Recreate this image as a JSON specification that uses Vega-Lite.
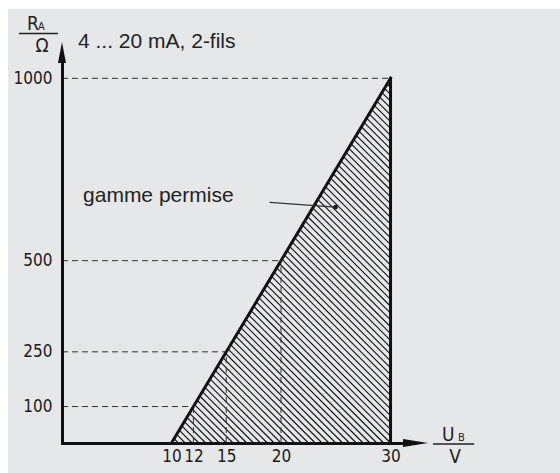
{
  "$schema": "https://vega.github.io/schema/vega-lite/v6.json",
  "autosize": "none",
  "width": 341,
  "height": 380,
  "padding": {"left": 62, "top": 63, "right": 157, "bottom": 30},
  "background": "white",
  "config": {"view": {"stroke": null}},
  "datasets": {
    "bg": [{"v": -4.93, "v2": 45.5, "r": -82.3, "r2": 1190}],
    "hatch": [
      {"v":10.234,"r":11.72,"v2":10.625,"r2":0},{"v":10.469,"r":23.44,"v2":11.25,"r2":0},{"v":10.703,"r":35.16,"v2":11.875,"r2":0},{"v":10.938,"r":46.88,"v2":12.5,"r2":0},{"v":11.172,"r":58.59,"v2":13.125,"r2":0},{"v":11.406,"r":70.31,"v2":13.75,"r2":0},{"v":11.641,"r":82.03,"v2":14.375,"r2":0},{"v":11.875,"r":93.75,"v2":15,"r2":0},{"v":12.109,"r":105.47,"v2":15.625,"r2":0},{"v":12.344,"r":117.19,"v2":16.25,"r2":0},
      {"v":12.578,"r":128.91,"v2":16.875,"r2":0},{"v":12.813,"r":140.63,"v2":17.5,"r2":0},{"v":13.047,"r":152.34,"v2":18.125,"r2":0},{"v":13.281,"r":164.06,"v2":18.75,"r2":0},{"v":13.516,"r":175.78,"v2":19.375,"r2":0},{"v":13.75,"r":187.5,"v2":20,"r2":0},{"v":13.984,"r":199.22,"v2":20.625,"r2":0},{"v":14.219,"r":210.94,"v2":21.25,"r2":0},{"v":14.453,"r":222.66,"v2":21.875,"r2":0},{"v":14.688,"r":234.38,"v2":22.5,"r2":0},
      {"v":14.922,"r":246.09,"v2":23.125,"r2":0},{"v":15.156,"r":257.81,"v2":23.75,"r2":0},{"v":15.391,"r":269.53,"v2":24.375,"r2":0},{"v":15.625,"r":281.25,"v2":25,"r2":0},{"v":15.859,"r":292.97,"v2":25.625,"r2":0},{"v":16.094,"r":304.69,"v2":26.25,"r2":0},{"v":16.328,"r":316.41,"v2":26.875,"r2":0},{"v":16.563,"r":328.13,"v2":27.5,"r2":0},{"v":16.797,"r":339.84,"v2":28.125,"r2":0},{"v":17.031,"r":351.56,"v2":28.75,"r2":0},
      {"v":17.266,"r":363.28,"v2":29.375,"r2":0},{"v":17.5,"r":375,"v2":30,"r2":0},{"v":17.734,"r":386.72,"v2":30,"r2":18.75},{"v":17.969,"r":398.44,"v2":30,"r2":37.5},{"v":18.203,"r":410.16,"v2":30,"r2":56.25},{"v":18.438,"r":421.88,"v2":30,"r2":75},{"v":18.672,"r":433.59,"v2":30,"r2":93.75},{"v":18.906,"r":445.31,"v2":30,"r2":112.5},{"v":19.141,"r":457.03,"v2":30,"r2":131.25},{"v":19.375,"r":468.75,"v2":30,"r2":150},
      {"v":19.609,"r":480.47,"v2":30,"r2":168.75},{"v":19.844,"r":492.19,"v2":30,"r2":187.5},{"v":20.078,"r":503.91,"v2":30,"r2":206.25},{"v":20.313,"r":515.63,"v2":30,"r2":225},{"v":20.547,"r":527.34,"v2":30,"r2":243.75},{"v":20.781,"r":539.06,"v2":30,"r2":262.5},{"v":21.016,"r":550.78,"v2":30,"r2":281.25},{"v":21.25,"r":562.5,"v2":30,"r2":300},{"v":21.484,"r":574.22,"v2":30,"r2":318.75},{"v":21.719,"r":585.94,"v2":30,"r2":337.5},
      {"v":21.953,"r":597.66,"v2":30,"r2":356.25},{"v":22.188,"r":609.38,"v2":30,"r2":375},{"v":22.422,"r":621.09,"v2":30,"r2":393.75},{"v":22.656,"r":632.81,"v2":30,"r2":412.5},{"v":22.891,"r":644.53,"v2":30,"r2":431.25},{"v":23.125,"r":656.25,"v2":30,"r2":450},{"v":23.359,"r":667.97,"v2":30,"r2":468.75},{"v":23.594,"r":679.69,"v2":30,"r2":487.5},{"v":23.828,"r":691.41,"v2":30,"r2":506.25},{"v":24.063,"r":703.13,"v2":30,"r2":525},
      {"v":24.297,"r":714.84,"v2":30,"r2":543.75},{"v":24.531,"r":726.56,"v2":30,"r2":562.5},{"v":24.766,"r":738.28,"v2":30,"r2":581.25},{"v":25,"r":750,"v2":30,"r2":600},{"v":25.234,"r":761.72,"v2":30,"r2":618.75},{"v":25.469,"r":773.44,"v2":30,"r2":637.5},{"v":25.703,"r":785.16,"v2":30,"r2":656.25},{"v":25.938,"r":796.88,"v2":30,"r2":675},{"v":26.172,"r":808.59,"v2":30,"r2":693.75},{"v":26.406,"r":820.31,"v2":30,"r2":712.5},
      {"v":26.641,"r":832.03,"v2":30,"r2":731.25},{"v":26.875,"r":843.75,"v2":30,"r2":750},{"v":27.109,"r":855.47,"v2":30,"r2":768.75},{"v":27.344,"r":867.19,"v2":30,"r2":787.5},{"v":27.578,"r":878.91,"v2":30,"r2":806.25},{"v":27.813,"r":890.63,"v2":30,"r2":825},{"v":28.047,"r":902.34,"v2":30,"r2":843.75},{"v":28.281,"r":914.06,"v2":30,"r2":862.5},{"v":28.516,"r":925.78,"v2":30,"r2":881.25},{"v":28.75,"r":937.5,"v2":30,"r2":900},
      {"v":28.984,"r":949.22,"v2":30,"r2":918.75},{"v":29.219,"r":960.94,"v2":30,"r2":937.5},{"v":29.453,"r":972.66,"v2":30,"r2":956.25},{"v":29.688,"r":984.38,"v2":30,"r2":975},{"v":29.922,"r":996.09,"v2":30,"r2":993.75}
    ],
    "dash": [
      {"v":0,"r":100,"v2":12,"r2":100},{"v":0,"r":250,"v2":15,"r2":250},{"v":0,"r":500,"v2":20,"r2":500},{"v":0,"r":1000,"v2":30,"r2":1000},
      {"v":12,"r":0,"v2":12,"r2":100},{"v":15,"r":0,"v2":15,"r2":250},{"v":20,"r":0,"v2":20,"r2":500}
    ],
    "outline": [{"v":10,"r":0,"v2":30,"r2":1000},{"v":30,"r":0,"v2":30,"r2":1000}],
    "leader": [{"v":18.96,"r":660,"v2":24.98,"r2":646.6}],
    "dot": [{"v":24.98,"r":646.6}],
    "fracline": [{"v":-3.93,"r":1122.8,"v2":-0.365,"r2":1122.8},{"v":33.88,"r":-2.7,"v2":37.63,"r2":-2.7}],
    "texts": [{"v":1.46,"r":1083,"t":"4 ... 20 mA, 2-fils"},{"v":1.92,"r":660.8,"t":"gamme permise"}],
    "unitbig": [{"v":-3.2,"r":1132.4,"t":"R"},{"v":34.7,"r":5.5,"t":"U"}],
    "unitsub": [{"v":-2.19,"r":1132.4,"t":"A"},{"v":36.16,"r":5.5,"t":"B"}],
    "unitden": [{"v":-1.83,"r":1072,"t":"Ω"},{"v":35.89,"r":-54.8,"t":"V"}],
    "arrowx": [{"v":32.28,"r":0}],
    "arrowy": [{"v":0,"r":1070.8}]
  },
  "encoding": {
    "x": {"field": "v", "type": "quantitative",
      "scale": {"domain": [0, 31.14], "nice": false, "zero": false},
      "axis": {"title": null, "values": [10, 12, 15, 20, 30], "ticks": false, "tickSize": 0, "grid": false,
        "domainColor": "#111", "domainWidth": 3, "domainCap": "square", "labelFont": "'DejaVu Sans Condensed', 'Liberation Sans Narrow', Roboto, sans-serif",
        "labelFontSize": 17, "labelColor": "#1a1a1a", "labelPadding": 5, "zindex": 1, "labelFlush": false}},
    "y": {"field": "r", "type": "quantitative",
      "scale": {"domain": [0, 1042], "nice": false, "zero": false},
      "axis": {"title": null, "values": [100, 250, 500, 1000], "format": "d", "ticks": false, "tickSize": 0, "grid": false,
        "domainColor": "#111", "domainWidth": 3, "domainCap": "square", "labelFont": "'DejaVu Sans Condensed', 'Liberation Sans Narrow', Roboto, sans-serif",
        "labelFontSize": 17, "labelColor": "#1a1a1a", "labelPadding": 10, "zindex": 1, "labelFlush": false}}
  },
  "layer": [
    {"data": {"name": "bg"}, "mark": {"type": "rect", "color": "#e6e7e9", "clip": false},
      "encoding": {"x2": {"field": "v2"}, "y2": {"field": "r2"}}},
    {"data": {"name": "hatch"}, "mark": {"type": "rule", "color": "#111", "strokeWidth": 1.1, "clip": false},
      "encoding": {"x2": {"field": "v2"}, "y2": {"field": "r2"}}},
    {"data": {"name": "dash"}, "mark": {"type": "rule", "color": "#333", "strokeWidth": 1, "strokeDash": [6, 4], "clip": false},
      "encoding": {"x2": {"field": "v2"}, "y2": {"field": "r2"}}},
    {"data": {"name": "outline"}, "mark": {"type": "rule", "color": "#111", "strokeWidth": 3, "strokeCap": "square", "clip": false},
      "encoding": {"x2": {"field": "v2"}, "y2": {"field": "r2"}}},
    {"data": {"name": "leader"}, "mark": {"type": "rule", "color": "#333", "strokeWidth": 1.2, "clip": false},
      "encoding": {"x2": {"field": "v2"}, "y2": {"field": "r2"}}},
    {"data": {"name": "dot"}, "mark": {"type": "point", "filled": true, "color": "#222", "size": 22, "opacity": 1, "clip": false}},
    {"data": {"name": "fracline"}, "mark": {"type": "rule", "color": "#222", "strokeWidth": 1.5, "clip": false},
      "encoding": {"x2": {"field": "v2"}, "y2": {"field": "r2"}}},
    {"data": {"name": "texts"}, "mark": {"type": "text", "align": "left", "baseline": "alphabetic", "font": "Liberation Sans", "fontSize": 21, "color": "#222", "clip": false},
      "encoding": {"text": {"field": "t"}}},
    {"data": {"name": "unitbig"}, "mark": {"type": "text", "align": "left", "baseline": "alphabetic", "font": "'DejaVu Sans Condensed', 'Liberation Sans Narrow', Roboto, sans-serif", "fontSize": 19, "color": "#222", "clip": false},
      "encoding": {"text": {"field": "t"}}},
    {"data": {"name": "unitsub"}, "mark": {"type": "text", "align": "left", "baseline": "alphabetic", "font": "'DejaVu Sans Condensed', 'Liberation Sans Narrow', Roboto, sans-serif", "fontSize": 11, "color": "#222", "clip": false},
      "encoding": {"text": {"field": "t"}}},
    {"data": {"name": "unitden"}, "mark": {"type": "text", "align": "center", "baseline": "alphabetic", "font": "'DejaVu Sans Condensed', 'Liberation Sans Narrow', Roboto, sans-serif", "fontSize": 19, "color": "#222", "clip": false},
      "encoding": {"text": {"field": "t"}}},
    {"data": {"name": "arrowx"}, "mark": {"type": "point", "filled": true, "color": "#111", "opacity": 1, "size": 625, "shape": "M -1 -0.32 L 1 0 L -1 0.32 Z", "clip": false}},
    {"data": {"name": "arrowy"}, "mark": {"type": "point", "filled": true, "color": "#111", "opacity": 1, "size": 441, "shape": "M -0.38 1 L 0 -1 L 0.38 1 Z", "clip": false}}
  ]
}
